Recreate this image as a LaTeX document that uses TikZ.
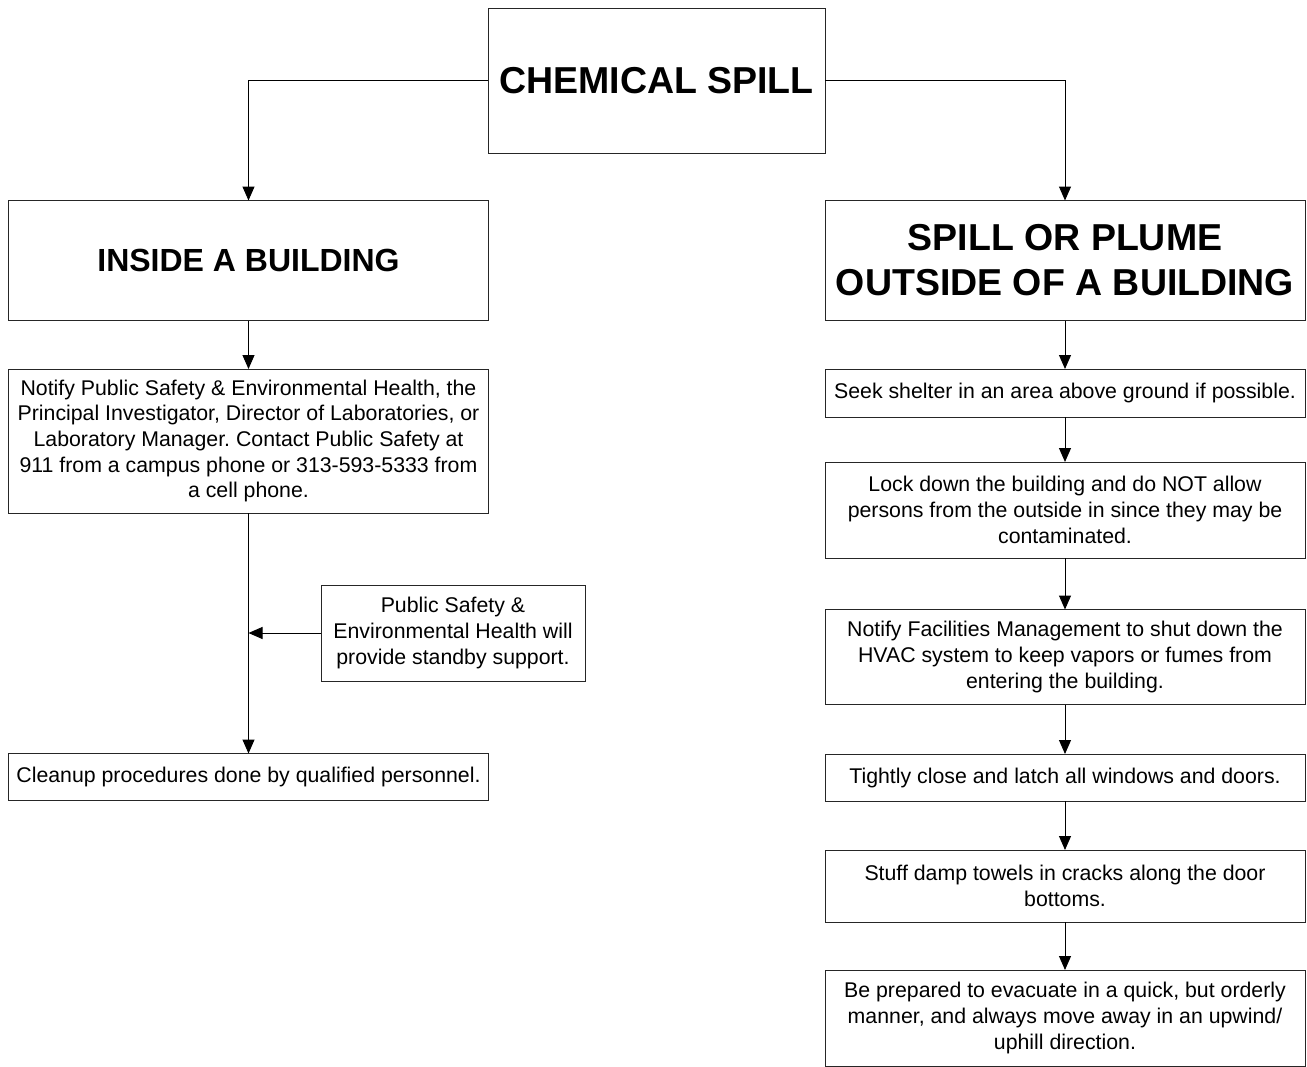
\documentclass[tikz,border=0pt]{standalone}
\usepackage{fontspec}
\setmainfont{Liberation Sans}
\frenchspacing
\usetikzlibrary{arrows.meta,positioning}
\tikzset{%
  box/.style={draw=black!85,line width=1pt,align=center,inner sep=4pt,outer sep=0pt,
    font=\fontsize{21.3}{25.7}\selectfont},
  head/.style={box,font=\fontsize{37.5}{45}\selectfont\bfseries},
  arrow/.style={-{Triangle[length=14pt,width=12pt]},line width=1pt}%
}

\begin{document}
\begin{tikzpicture}[
    x=1pt,y=1pt,
    wide/.style={box,minimum width=480pt},
    step1/.style={wide,minimum height=47pt},
    step2/.style={wide,minimum height=72pt},
    step3/.style={wide,minimum height=96pt}
]
\useasboundingbox (0,0) rectangle (1307,-1066);

% Top
\node[head,minimum width=337pt,minimum height=145pt] (spill) at (656.5,-80.5) {CHEMICAL SPILL};

% Two branches
\node[wide,minimum height=120pt,font=\fontsize{32}{38}\selectfont\bfseries] (inside) at (248.5,-260.5) {INSIDE A BUILDING};
\node[wide,minimum height=120pt,head] (outside) at (1065,-260.5) {SPILL OR PLUME\\OUTSIDE OF A BUILDING};

% Inside a building
\node[wide,minimum height=144pt,below=48.5pt of inside] (notify) {Notify Public Safety \& Environmental Health, the\\Principal Investigator, Director of Laboratories, or\\Laboratory Manager. Contact Public Safety at\\911 from a campus phone or 313-593-5333 from\\a cell phone.};
\node[box,minimum width=264pt,minimum height=96pt] (standby) at (453,-633) {Public Safety \&\\Environmental Health will\\provide standby support.};
\node[step1] (cleanup) at (248.5,-777) {Cleanup procedures done by qualified personnel.};

% Outside of a building
\node[step1,minimum height=48pt,below=48.5pt of outside] (shelter) {Seek shelter in an area above ground if possible.};
\node[step3,below=45pt of shelter] (lock) {Lock down the building and do NOT allow\\persons from the outside in since they may be\\contaminated.};
\node[step3,minimum height=95pt,below=51.5pt of lock] (hvac) {Notify Facilities Management to shut down the\\HVAC system to keep vapors or fumes from\\entering the building.};
\node[step1,below=49.5pt of hvac] (close) {Tightly close and latch all windows and doors.};
\node[step2,below=49pt of close] (towels) {Stuff damp towels in cracks along the door\\bottoms.};
\node[step3,below=48pt of towels] (evac) {Be prepared to evacuate in a quick, but orderly\\manner, and always move away in an upwind/\\uphill direction.};

% Connections
\draw[arrow] (spill.west) -| (inside.north);
\draw[arrow] (spill.east) -| (outside.north);
\draw[arrow] (inside) -- (notify);
\draw[arrow] (notify) -- (cleanup);
\draw[arrow] (standby.west) -- (standby.west -| notify.south);
\foreach \a/\b in {outside/shelter,shelter/lock,lock/hvac,hvac/close,close/towels,towels/evac}
  \draw[arrow] (\a) -- (\b);

\end{tikzpicture}
\end{document}
